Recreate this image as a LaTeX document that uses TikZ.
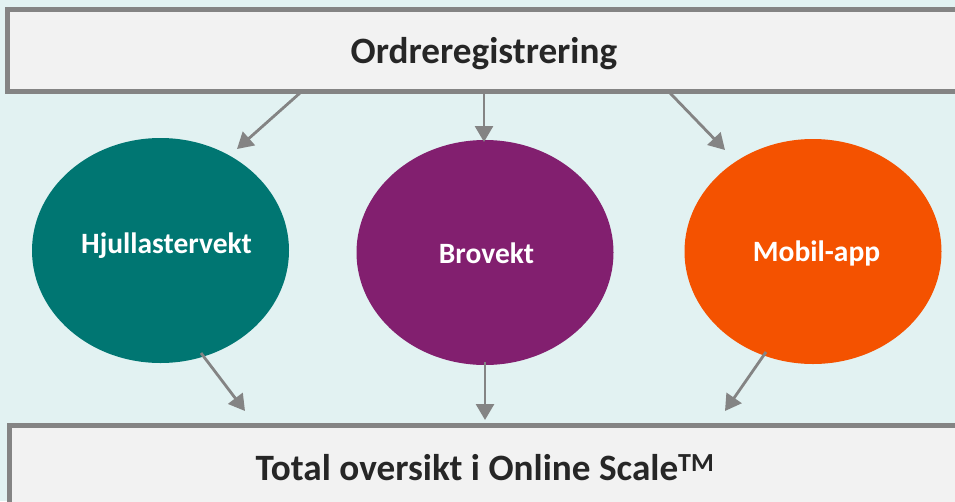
\documentclass[tikz,border=0pt]{standalone}
\usepackage{fontspec}
\setmainfont{Carlito}
\usetikzlibrary{arrows.meta,shapes.geometric}
\definecolor{bgc}{HTML}{E2F2F2}
\definecolor{boxc}{HTML}{F2F2F2}
\definecolor{linec}{HTML}{848484}
\definecolor{textc}{HTML}{262626}
\definecolor{tealc}{HTML}{007672}
\definecolor{purplec}{HTML}{821F6F}
\definecolor{orangec}{HTML}{F45200}
\tikzset{
  x=1pt,y=-1pt,
  bar/.style={rectangle,draw=linec,line width=5pt,fill=boxc,inner sep=0pt,anchor=north west},
  bartext/.style={text=textc,font=\bfseries\fontsize{37.2}{40}\selectfont,inner sep=0pt},
  blob/.style={ellipse,inner sep=0pt,minimum width=257pt,minimum height=225pt},
  blobtext/.style={text=white,font=\bfseries\fontsize{29.5}{32}\selectfont,inner sep=0pt},
  flow/.style={draw=linec,line width=2.8pt,-{Triangle[length=16pt,width=18pt]}}
}
\begin{document}
\begin{tikzpicture}
\useasboundingbox (0,0) rectangle (955,501);
\clip (0,0) rectangle (955,501);
\fill[bgc] (0,0) rectangle (955,501);
\node[bar,minimum width=1000pt,minimum height=82pt] (top) at (5,7) {};
\node[bar,minimum width=1000pt,minimum height=100pt] (bottom) at (7,423) {};
\node[bartext] (toptext) at (484,54) {Ordreregistrering};
\node[bartext] (bottomtext) at (485,468) {Total oversikt i Online Scale\textsuperscript{TM}};
\node[blob,fill=tealc] (hjul) at (160.5,250.5) {};
\node[blob,fill=purplec] (bro) at (485,252.5) {};
\node[blob,fill=orangec] (app) at (813,251.5) {};
\node[blobtext] (hjultext) at (166.5,245.5) {Hjullastervekt};
\node[blobtext] (brotext) at (486.5,253.5) {Brovekt};
\node[blobtext] (apptext) at (816.5,253.5) {Mobil-app};
\coordinate (s1) at (300,93);
\coordinate (e1) at (237,149);
\coordinate (s2) at (484,93);
\coordinate (e2) at (484,142);
\coordinate (s3) at (670,93);
\coordinate (e3) at (725,150);
\coordinate (s4) at (201,353);
\coordinate (e4) at (245,411);
\coordinate (s5) at (485,362);
\coordinate (e5) at (485,420);
\coordinate (s6) at (766,352);
\coordinate (e6) at (725,411);
\draw[flow] (s1) -- (e1);
\draw[flow] (s2) -- (e2);
\draw[flow] (s3) -- (e3);
\draw[flow] (s4) -- (e4);
\draw[flow] (s5) -- (e5);
\draw[flow] (s6) -- (e6);
\end{tikzpicture}
\end{document}
